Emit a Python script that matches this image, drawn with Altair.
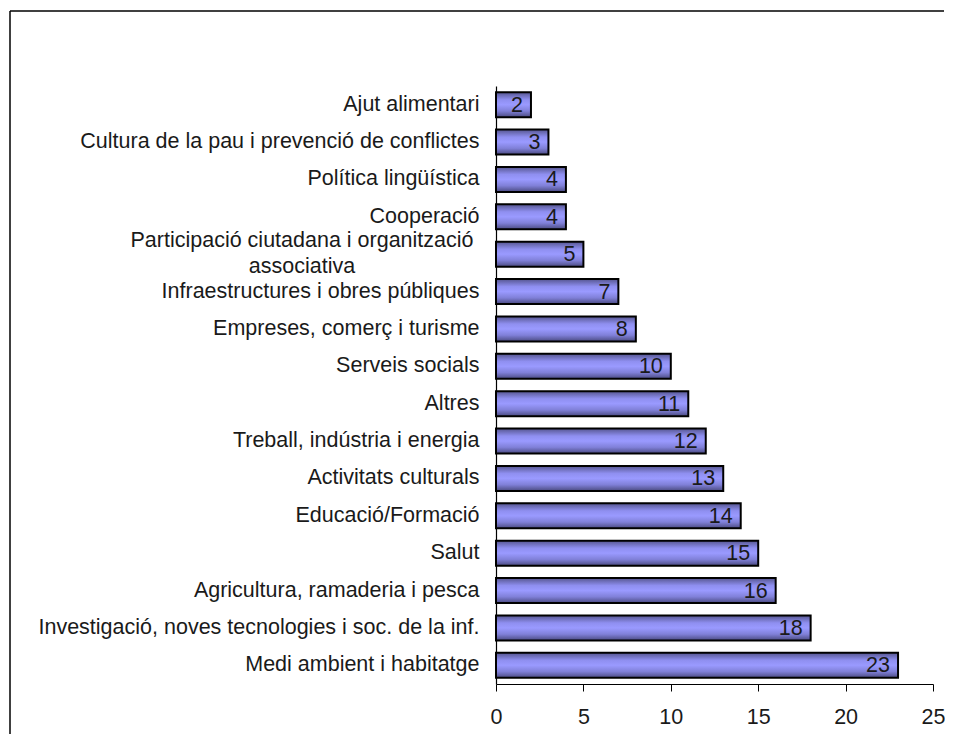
import altair as alt
import pandas as pd

categories = [
    "Ajut alimentari",
    "Cultura de la pau i prevenció de conflictes",
    "Política lingüística",
    "Cooperació",
    "Participació ciutadana i organització associativa",
    "Infraestructures i obres públiques",
    "Empreses, comerç i turisme",
    "Serveis socials",
    "Altres",
    "Treball, indústria i energia",
    "Activitats culturals",
    "Educació/Formació",
    "Salut",
    "Agricultura, ramaderia i pesca",
    "Investigació, noves tecnologies i soc. de la inf.",
    "Medi ambient i habitatge",
]
values = [2, 3, 4, 4, 5, 7, 8, 10, 11, 12, 13, 14, 15, 16, 18, 23]
x_ticks = [0, 5, 10, 15, 20, 25]

wrapped_cat = "Participació ciutadana i organització associativa"
wrapped_text = "Participació ciutadana i organització\nassociativa"

df = pd.DataFrame({"cat": categories, "val": values})
df_wrap = pd.DataFrame({"cat": [wrapped_cat], "txt": [wrapped_text]})

FONT = "Liberation Sans"
FS = 21.5
TXT = "#1a1a1a"

grad = alt.Gradient(
    gradient="linear",
    stops=[
        alt.GradientStop(color="#55558f", offset=0),
        alt.GradientStop(color="#8f8ff0", offset=0.3),
        alt.GradientStop(color="#9a9aff", offset=0.5),
        alt.GradientStop(color="#8080d8", offset=0.75),
        alt.GradientStop(color="#4a4a80", offset=1),
    ],
    x1=0, x2=0, y1=0, y2=1,
)

y_enc = alt.Y(
    "cat:N",
    sort=categories,
    title=None,
    scale=alt.Scale(paddingInner=0.33, paddingOuter=0.165),
    axis=alt.Axis(
        domainColor="black",
        domainWidth=1.2,
        ticks=False,
        labelFont=FONT,
        labelFontSize=FS,
        labelColor=TXT,
        labelPadding=17,
        labelLimit=600,
        labelExpr=f"datum.value == '{wrapped_cat}' ? '' : datum.value",
    ),
)

x_enc = alt.X(
    "val:Q",
    title=None,
    scale=alt.Scale(domain=[0, 25], nice=False),
    axis=alt.Axis(
        values=x_ticks,
        grid=False,
        domainColor="black",
        domainWidth=1.2,
        tickColor="black",
        tickSize=7,
        labelFont=FONT,
        labelFontSize=FS,
        labelColor=TXT,
        labelPadding=15,
        labelFlush=False,
    ),
)

bars = alt.Chart(df).mark_bar(
    color=grad, stroke="black", strokeWidth=2
).encode(x=x_enc, y=y_enc)

vals = alt.Chart(df).mark_text(
    align="right", baseline="middle", dx=-8, dy=1,
    font=FONT, fontSize=FS, color=TXT,
).encode(x="val:Q", y=alt.Y("cat:N", sort=categories), text="val:Q")

wrap_lbl = alt.Chart(df_wrap).mark_text(
    align="center", baseline="middle", lineBreak="\n", lineHeight=26,
    dy=-13, font=FONT, fontSize=FS, color=TXT,
).encode(
    x=alt.value(-194),
    y=alt.Y("cat:N", sort=categories),
    text="txt:N",
)

frame_data = alt.Data(values=[{"a": 1}])
frame_left = alt.Chart(frame_data).mark_rule(color="black", strokeWidth=1.5).encode(
    x=alt.value(-486), y=alt.value(-75), y2=alt.value(700)
)
frame_top = alt.Chart(frame_data).mark_rule(color="black", strokeWidth=1.5).encode(
    x=alt.value(-486), x2=alt.value(448), y=alt.value(-75), y2=alt.value(-75)
)

chart = alt.layer(bars, vals, wrap_lbl, frame_left, frame_top).properties(
    width=437,
    height=598,
    background="white",
    autosize=alt.AutoSizeParams(type="none"),
    padding={"left": 488, "top": 78, "right": 12, "bottom": 50},
).configure_view(stroke=None)

chart.save("out.html", embed_options={"renderer": "svg", "actions": False})
